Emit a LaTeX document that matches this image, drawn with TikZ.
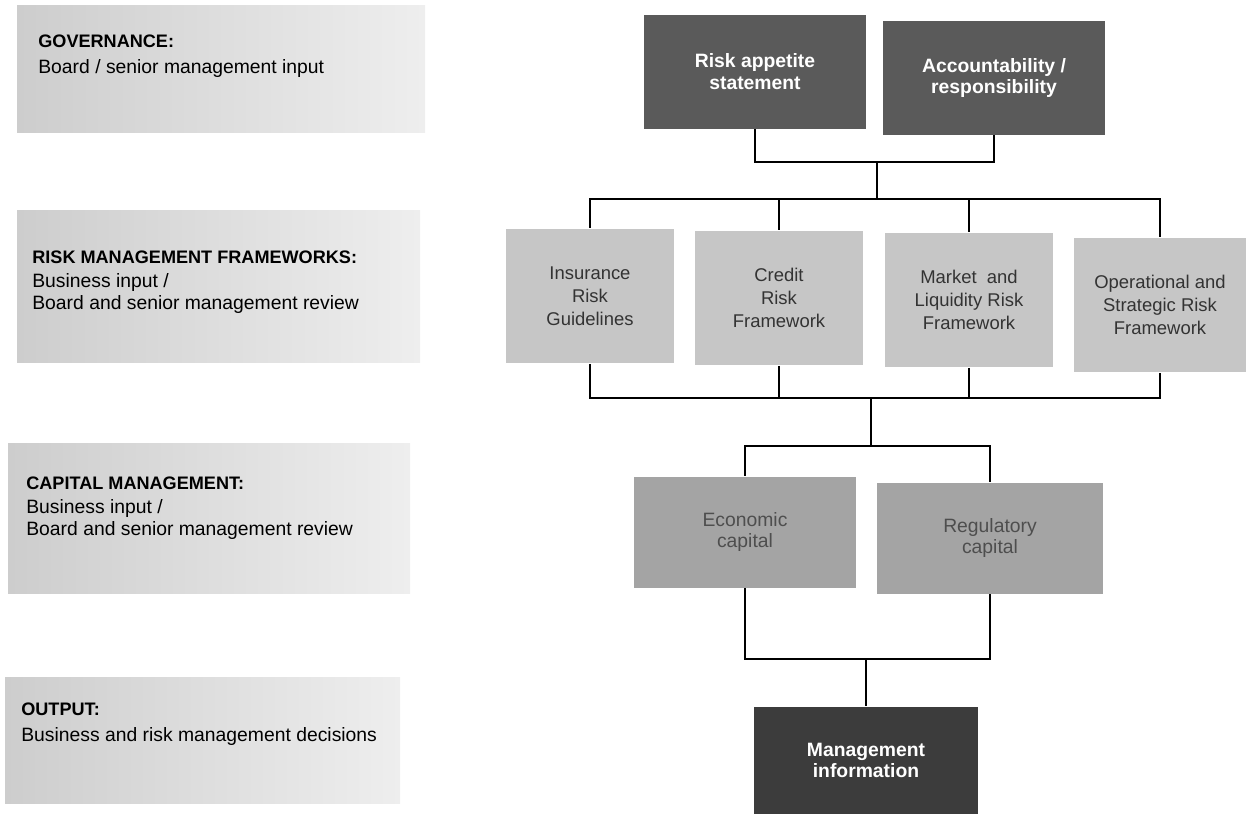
\documentclass[tikz,border=0pt]{standalone}
\usepackage{fontspec}
\setmainfont{Liberation Sans}
\usepackage{xcolor}
\usepackage{tikz}
\usetikzlibrary{positioning,calc}
\definecolor{govgray}{HTML}{5A5A5A}
\definecolor{fwgray}{HTML}{C6C6C6}
\definecolor{capgray}{HTML}{A4A4A4}
\definecolor{outgray}{HTML}{3C3C3C}
\definecolor{fwtext}{HTML}{333333}
\definecolor{captext}{HTML}{4E4E4E}
\definecolor{panelL}{HTML}{CDCDCD}
\definecolor{panelR}{HTML}{EEEEEE}
\tikzset{
  govbox/.style={rectangle,fill=govgray,text=white,align=center,inner sep=2pt,
    font=\fontsize{11}{12.5}\selectfont\bfseries,minimum width=4.46cm,minimum height=2.27cm},
  fwbox/.style={rectangle,fill=fwgray,text=fwtext,align=center,inner sep=2pt,
    font=\fontsize{10.5}{13}\selectfont,minimum width=3.36cm,minimum height=2.7cm},
  capbox/.style={rectangle,fill=capgray,text=captext,align=center,inner sep=2pt,
    font=\fontsize{11}{12}\selectfont,minimum width=4.46cm,minimum height=2.22cm},
  outbox/.style={rectangle,fill=outgray,text=white,align=center,inner sep=2pt,
    font=\fontsize{11}{12}\selectfont\bfseries,minimum width=4.5cm,minimum height=2.14cm},
  lvlpanel/.style={left color=panelL,right color=panelR},
  lvltext/.style={anchor=west,align=left,inner sep=0pt,font=\fontsize{11}{12.5}\selectfont},
  lvlhead/.style={font=\fontsize{10.3}{12.5}\selectfont\bfseries},
  conn/.style={draw=black,line width=0.9pt}
}

\begin{document}
\begin{tikzpicture}[x=0.02cm,y=-0.02cm,font=\small]
  \useasboundingbox (0,0) rectangle (1247,816);
  \shade[lvlpanel] (17,5) rectangle (425,132);
  \shade[lvlpanel] (17,210) rectangle (420,362);
  \shade[lvlpanel] (8,443) rectangle (410,593);
  \shade[lvlpanel] (5,677) rectangle (400,803);
  \node[lvltext] (govtxt) at (38,56) {{\fontsize{10.3}{12.5}\selectfont\bfseries GOVERNANCE:}\\[2pt]Board / senior management input};
  \node[lvltext] (fwtxt) at (32,282) {{\fontsize{10.3}{12.5}\selectfont\bfseries RISK MANAGEMENT FRAMEWORKS:}\\[1pt]Business input /\\Board and senior management review};
  \node[lvltext] (captxt) at (26,508) {{\fontsize{10.3}{12.5}\selectfont\bfseries CAPITAL MANAGEMENT:}\\[1pt]Business input /\\Board and senior management review};
  \node[lvltext] (outtxt) at (21,724) {{\fontsize{10.3}{12.5}\selectfont\bfseries OUTPUT:}\\[2pt]Business and risk management decisions};
  \node[govbox] (risk) at (755,72) {Risk appetite\\statement};
  \node[govbox] (acct) at (994,78) {Accountability /\\responsibility};
  \node[fwbox] (ins) at (590,296) {Insurance\\Risk\\Guidelines};
  \node[fwbox] (cred) at (779,298) {Credit\\Risk\\Framework};
  \node[fwbox] (mkt) at (969,300) {Market~~and\\Liquidity Risk\\Framework};
  \node[fwbox,minimum width=3.44cm] (oprisk) at (1160,305) {Operational and\\Strategic Risk\\Framework};
  \node[capbox] (econ) at (745,532) {Economic\\capital};
  \node[capbox,minimum width=4.52cm] (reg) at (990,538) {Regulatory\\capital};
  \node[outbox] (mgmt) at (866,760) {Management\\information};
  \coordinate (j1) at (877,162);
  \coordinate (j2) at (877,199);
  \coordinate (j3) at (871,398);
  \coordinate (j4) at (871,446);
  \coordinate (j5) at (866,659);
  \draw[conn] (risk.south) |- (j1) -| (acct.south);
  \draw[conn] (j1) -- (j2);
  \foreach \b in {ins,cred,mkt,oprisk}
    \draw[conn] (j2) -| (\b.north);
  \foreach \b in {ins,cred,mkt,oprisk}
    \draw[conn] (\b.south) |- (j3);
  \draw[conn] (j3) -- (j4);
  \draw[conn] (j4) -| (econ.north);
  \draw[conn] (j4) -| (reg.north);
  \draw[conn] (econ.south) |- (j5) -| (reg.south);
  \draw[conn] (j5) -- (mgmt.north);
\end{tikzpicture}
\end{document}
